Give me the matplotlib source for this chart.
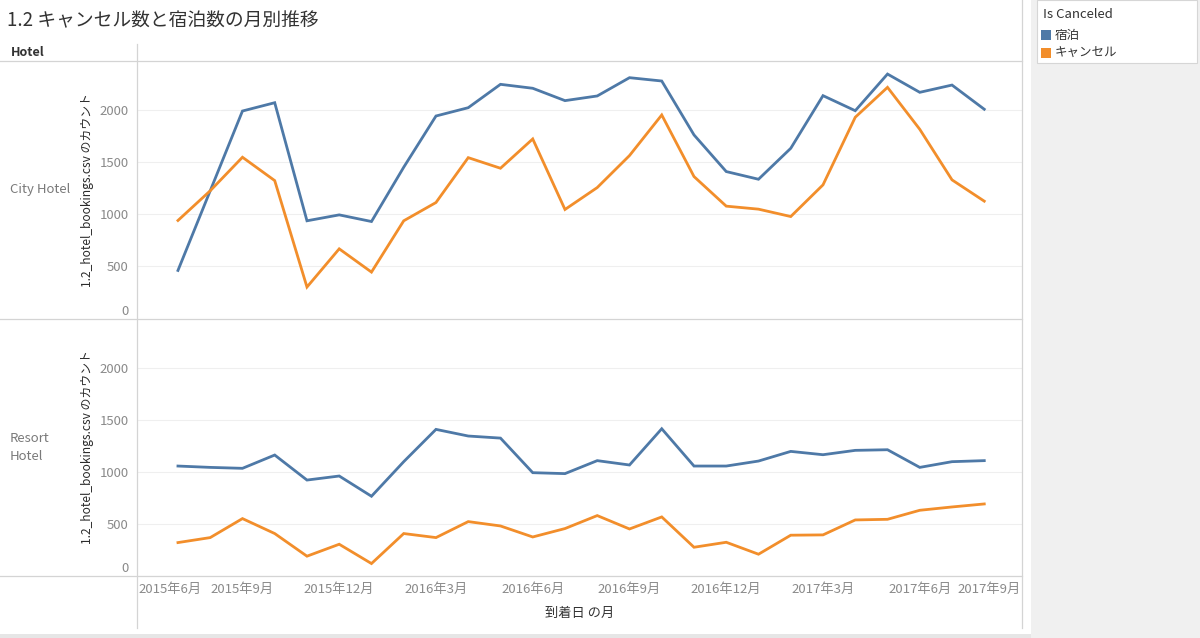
import matplotlib.pyplot as plt
from matplotlib.lines import Line2D
from matplotlib.patches import Rectangle
import numpy as np

plt.rcParams['font.family'] = ['Noto Sans CJK JP', 'DejaVu Sans']

# 到着日の月 (2015-07 .. 2017-08)
months = ['2015-07', '2015-08', '2015-09', '2015-10', '2015-11', '2015-12',
          '2016-01', '2016-02', '2016-03', '2016-04', '2016-05', '2016-06',
          '2016-07', '2016-08', '2016-09', '2016-10', '2016-11', '2016-12',
          '2017-01', '2017-02', '2017-03', '2017-04', '2017-05', '2017-06',
          '2017-07', '2017-08']

city_stay = [458, 1225, 1993, 2073, 936, 993, 929, 1452, 1945, 2025, 2250, 2212, 2093,
             2138, 2314, 2282, 1763, 1410, 1336, 1634, 2141, 1996, 2349, 2173, 2243, 2010]
city_cancel = [939, 1225, 1548, 1323, 298, 666, 442, 936, 1112, 1544, 1442, 1724, 1045,
               1256, 1564, 1955, 1362, 1077, 1048, 977, 1282, 1933, 2221, 1817, 1330, 1125]
resort_stay = [1054, 1041, 1032, 1160, 919, 958, 763, 1096, 1407, 1343, 1323, 990, 981,
               1106, 1064, 1413, 1054, 1054, 1102, 1195, 1163, 1205, 1211, 1041, 1096, 1106]
resort_cancel = [317, 365, 548, 404, 186, 301, 115, 404, 365, 519, 477, 371, 452,
                 577, 448, 564, 272, 320, 205, 388, 391, 535, 541, 628, 660, 689]

tick_months = ['2015-06', '2015-09', '2015-12', '2016-03', '2016-06',
               '2016-09', '2016-12', '2017-03', '2017-06', '2017-09']
tick_labels = ['2015年6月', '2015年9月', '2015年12月', '2016年3月', '2016年6月',
               '2016年9月', '2016年12月', '2017年3月', '2017年6月', '2017年9月']
y_ticks = [0, 500, 1000, 1500, 2000]

BLUE = '#4e79a7'
ORANGE = '#f28e2b'
W, H = 1200, 638


def month_pos(m):
    y, mo = m.split('-')
    return (int(y) - 2015) * 12 + int(mo) - 6


def px(x):
    return x / W


def py(y):
    return 1 - y / H


x = np.array([month_pos(m) for m in months])
tick_pos = [month_pos(m) for m in tick_months]
x_lo, x_hi = -0.27, 27.17

fig = plt.figure(figsize=(12, 6.38), dpi=100)

# right side panel + legend
fig.add_artist(Rectangle((px(1031), 0), 1 - px(1031), 1, transform=fig.transFigure,
                         facecolor='#f0f0f0', edgecolor='none', zorder=0))
fig.add_artist(Rectangle((px(1037), py(63)), px(160), 63 / H, transform=fig.transFigure,
                         facecolor='white', edgecolor='#d6d6d6', lw=0.8, zorder=1))
fig.text(px(1043), py(14), 'Is Canceled', fontsize=9.5, color='#333333', va='center')
for yy, c, lab in [(30, BLUE, '宿泊'), (48, ORANGE, 'キャンセル')]:
    fig.add_artist(Rectangle((px(1041), py(yy + 10)), px(10), 10 / H,
                             transform=fig.transFigure, facecolor=c, edgecolor='none'))
    fig.text(px(1055), py(yy + 5), lab, fontsize=9, color='#333333', va='center')
fig.add_artist(Rectangle((0, 0), px(1031), 4 / H, transform=fig.transFigure,
                         facecolor='#e6e6e6', edgecolor='none'))

# title and header
fig.text(px(7), py(21), '1.2 キャンセル数と宿泊数の月別推移', fontsize=13.5, color='#333333',
         va='center')
fig.text(px(11), py(52), 'Hotel', fontsize=9, fontweight='bold', color='#333333',
         va='center')

axes = []
panels = [(62, 'City Hotel', city_stay, city_cancel),
          (319.5, 'Resort\nHotel', resort_stay, resort_cancel)]
for top, name, stay, cancel in panels:
    ax = fig.add_axes([px(137), py(top + 256), px(885), 256 / H])
    ax.plot(x, stay, color=BLUE, lw=2.0, solid_joinstyle='miter')
    ax.plot(x, cancel, color=ORANGE, lw=2.0, solid_joinstyle='miter')
    ax.set_xlim(x_lo, x_hi)
    ax.set_ylim(0, 2465)
    ax.set_yticks(y_ticks)
    ax.set_yticklabels([str(v) for v in y_ticks])
    ax.get_yticklabels()[0].set_va('bottom')
    ax.set_xticks([])
    ax.tick_params(axis='y', length=0, pad=6, labelsize=9.5, labelcolor='#8a8a8a')
    ax.grid(axis='y', color='#efefef', lw=0.8)
    ax.set_axisbelow(True)
    for s in ax.spines.values():
        s.set_visible(False)
    mid = top + 128
    fig.text(px(10), py(mid), name, fontsize=9.5, color='#7a7a7a', va='center',
             ha='left', linespacing=1.5)
    fig.text(px(88), py(mid), '1.2_hotel_bookings.csv のカウント', fontsize=8.6,
             color='#2b2b2b', rotation=90, ha='center', va='center')
    axes.append(ax)

ax2 = axes[1]
for pos, lab in zip(tick_pos, tick_labels):
    ha = 'center'
    if pos == tick_pos[0]:
        pos, ha = x_lo + 0.05, 'left'
    elif pos == tick_pos[-1]:
        pos, ha = x_hi - 0.05, 'right'
    ax2.text(pos, -0.03, lab, transform=ax2.get_xaxis_transform(), ha=ha, va='top',
             fontsize=9.5, color='#8a8a8a')
fig.text(px(580), py(613), '到着日 の月', fontsize=9.5, color='#333333', ha='center',
         va='center')

# Tableau-style frame lines
frame = [((0, 1022), (61, 61)), ((0, 1022), (318.5, 318.5)), ((0, 1022), (576, 576)),
         ((137, 137), (44, 628)), ((1022, 1022), (0, 628))]
for (x0, x1), (y0, y1) in frame:
    fig.add_artist(Line2D([px(x0), px(x1)], [py(y0), py(y1)], transform=fig.transFigure,
                          color='#d4d4d4', lw=0.9))

fig.savefig('out.png', dpi=100)
